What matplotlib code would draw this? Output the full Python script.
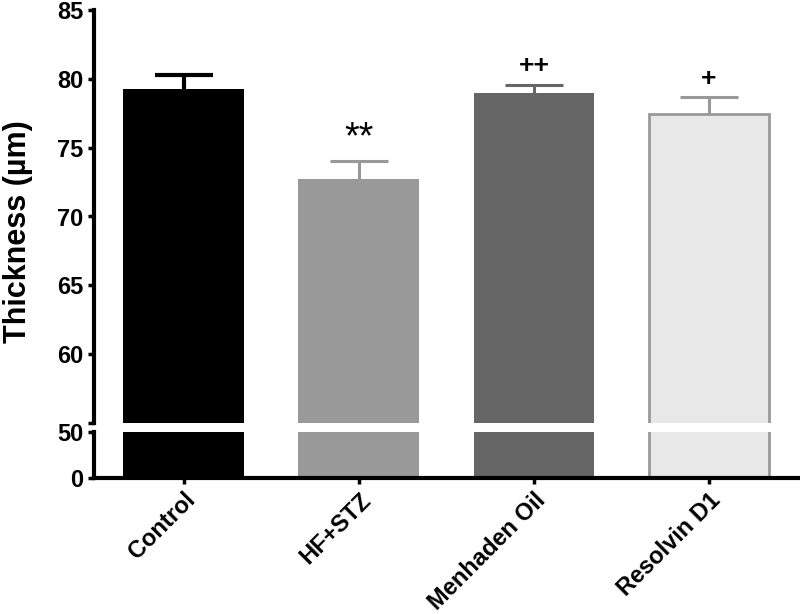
import numpy as np
import matplotlib
matplotlib.use('Agg')
import matplotlib.pyplot as plt

plt.rcParams['font.family'] = ['Liberation Sans', 'DejaVu Sans']
plt.rcParams['font.weight'] = 'bold'

groups = ['Control', 'HF+STZ', 'Menhaden Oil', 'Resolvin D1']
means = [79.25, 72.7, 78.95, 77.45]
errs = [1.05, 1.3, 0.6, 1.2]
marks = ['', '**', '++', '+']
faces = ['#000000', '#999999', '#666666', '#e8e8e8']
edges = ['#000000', '#999999', '#666666', '#999999']

x = np.arange(len(groups))
W, H = 800, 614
fig = plt.figure(figsize=(8, 6.14), dpi=100)
left, right = 94 / W, 799 / W
ax_top = fig.add_axes([left, 1 - 423 / H, right - left, (423 - 10) / H])
ax_bot = fig.add_axes([left, 1 - 478 / H, right - left, (478 - 432) / H])

for ax in (ax_top, ax_bot):
    for i in range(len(groups)):
        ax.bar(x[i], means[i], width=0.69, color=faces[i], edgecolor=edges[i],
               linewidth=2 if i == 3 else 0, zorder=2)
    ax.set_xlim(-0.513, 3.514)
    for s in ('top', 'right'):
        ax.spines[s].set_visible(False)
    ax.spines['left'].set_linewidth(3)
    ax.spines['bottom'].set_linewidth(3)
    ax.tick_params(axis='both', width=2.5, length=4, labelsize=17)

# error bars, upper side only
for i in range(len(groups)):
    col = edges[i]
    lw = 3 if i == 0 else 2.2
    top = means[i] + errs[i]
    ax_top.vlines(x[i], means[i], top, colors=col, linewidth=lw, zorder=3)
    ax_top.hlines(top, x[i] - 0.165, x[i] + 0.165, colors=col, linewidth=lw, zorder=3)
    if marks[i] == '**':
        ax_top.text(x[i], top + 0.35, marks[i], ha='center', va='bottom',
                    fontsize=27, fontweight='normal')
    elif marks[i]:
        ax_top.text(x[i], top + 0.5, marks[i], ha='center', va='bottom',
                    fontsize=19, fontweight='heavy')

ax_top.set_ylim(55, 85)
ax_top.set_yticks([55, 60, 65, 70, 75, 80, 85])
ax_top.set_yticklabels(['', '60', '65', '70', '75', '80', '85'], fontweight='bold')
ax_top.spines['bottom'].set_visible(False)
ax_top.tick_params(axis='x', bottom=False, labelbottom=False)

ax_bot.set_ylim(0, 50)
ax_bot.set_yticks([0, 50])
ax_bot.set_yticklabels(['0', '50'], fontweight='bold')
ax_bot.set_xticks(x)
ax_bot.set_xticklabels(groups, rotation=45, ha='right', rotation_mode='anchor',
                       fontsize=17, fontweight='bold')

fig.text(18 / W, 1 - 232 / H, 'Thickness (µm)', rotation=90, ha='center', va='center',
         fontsize=22, fontweight='bold')

fig.savefig('out.png', dpi=100)
